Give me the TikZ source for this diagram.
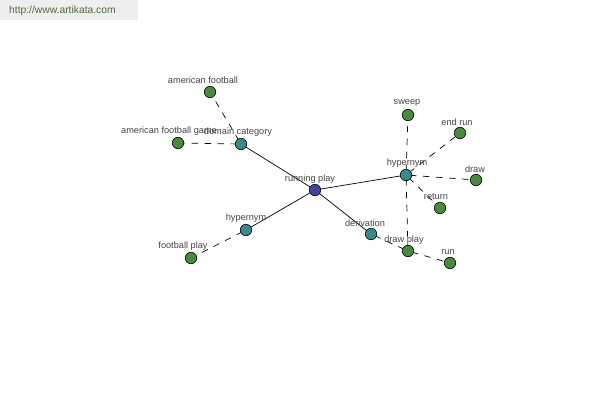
\documentclass[tikz,border=0pt]{standalone}
\usepackage{fontspec}
\setmainfont{Liberation Sans}
\begin{document}
\begin{tikzpicture}[x=1pt,y=-1pt,
  dot/.style={circle,draw=black,line width=0.6pt,minimum size=11.5pt,inner sep=0pt},
  root/.style={dot,fill=rootc},
  mid/.style={dot,fill=midc},
  leaf/.style={dot,fill=leafc},
  lbl/.style={text=labc,font=\fontsize{9.2}{11}\selectfont,inner sep=0pt},
  solidedge/.style={draw=black,line width=0.7pt},
  dashedge/.style={draw=black,line width=0.7pt,dashed,dash pattern=on 6.5pt off 6.5pt,shorten >=4pt,shorten <=4pt}]
\definecolor{rootc}{HTML}{4444A0}
\definecolor{midc}{HTML}{3A8A8A}
\definecolor{leafc}{HTML}{4A8A3E}
\definecolor{labc}{HTML}{444444}
\definecolor{hdrbg}{HTML}{EEEEEE}
\definecolor{hdrtxt}{HTML}{4E6A3A}
\useasboundingbox[fill=white] (0,0) rectangle (600,400);
\fill[hdrbg] (0,0) rectangle (138,20);
\node[text=hdrtxt,font=\fontsize{10.3}{12}\selectfont,anchor=west,inner sep=0pt] (hdr) at (9,11) {http://www.artikata.com};
% edges
\coordinate (rpC) at (315,190);
\coordinate (dcC) at (241,144);
\coordinate (afC) at (210,92);
\coordinate (agC) at (178,143);
\coordinate (h1C) at (246,230);
\coordinate (fpC) at (191,258);
\coordinate (deC) at (371,234);
\coordinate (dpC) at (408,251);
\coordinate (ruC) at (450,263);
\coordinate (h2C) at (406,175);
\coordinate (swC) at (408,115);
\coordinate (erC) at (460,133);
\coordinate (drC) at (476,180);
\coordinate (reC) at (440,208);
\draw[solidedge] (rpC) -- (dcC);
\draw[solidedge] (rpC) -- (h1C);
\draw[solidedge] (rpC) -- (deC);
\draw[solidedge] (rpC) -- (h2C);
\draw[dashedge] (dcC) -- (afC);
\draw[dashedge] (dcC) -- (agC);
\draw[dashedge] (h1C) -- (fpC);
\draw[dashedge] (deC) -- (dpC);
\draw[dashedge] (dpC) -- (ruC);
\draw[dashedge] (h2C) -- (swC);
\draw[dashedge] (h2C) -- (erC);
\draw[dashedge] (h2C) -- (drC);
\draw[dashedge] (h2C) -- (reC);
\draw[dashedge] (h2C) -- (dpC);
% nodes
\node[root] (rp) at (rpC) {};
\node[mid] (dc) at (dcC) {};
\node[leaf] (af) at (afC) {};
\node[leaf] (ag) at (agC) {};
\node[mid] (h1) at (h1C) {};
\node[leaf] (fp) at (fpC) {};
\node[mid] (de) at (deC) {};
\node[leaf] (dp) at (dpC) {};
\node[leaf] (ru) at (ruC) {};
\node[mid] (h2) at (h2C) {};
\node[leaf] (sw) at (swC) {};
\node[leaf] (er) at (erC) {};
\node[leaf] (dr) at (drC) {};
\node[leaf] (re) at (reC) {};
% labels
\node[lbl] (rpL) at (310,179) {running play};
\node[lbl] (dcL) at (238,132) {domain category};
\node[lbl] (afL) at (203,80) {american football};
\node[lbl] (agL) at (169,131) {american football game};
\node[lbl] (h1L) at (246,218) {hypernym};
\node[lbl] (fpL) at (183,246) {football play};
\node[lbl] (deL) at (365,223) {derivation};
\node[lbl] (dpL) at (404,240) {draw play};
\node[lbl] (ruL) at (448,252) {run};
\node[lbl] (h2L) at (407,163) {hypernym};
\node[lbl] (swL) at (407,103) {sweep};
\node[lbl] (erL) at (457,122) {end run};
\node[lbl] (drL) at (475,169) {draw};
\node[lbl] (reL) at (436,197) {return};
\end{tikzpicture}
\end{document}
